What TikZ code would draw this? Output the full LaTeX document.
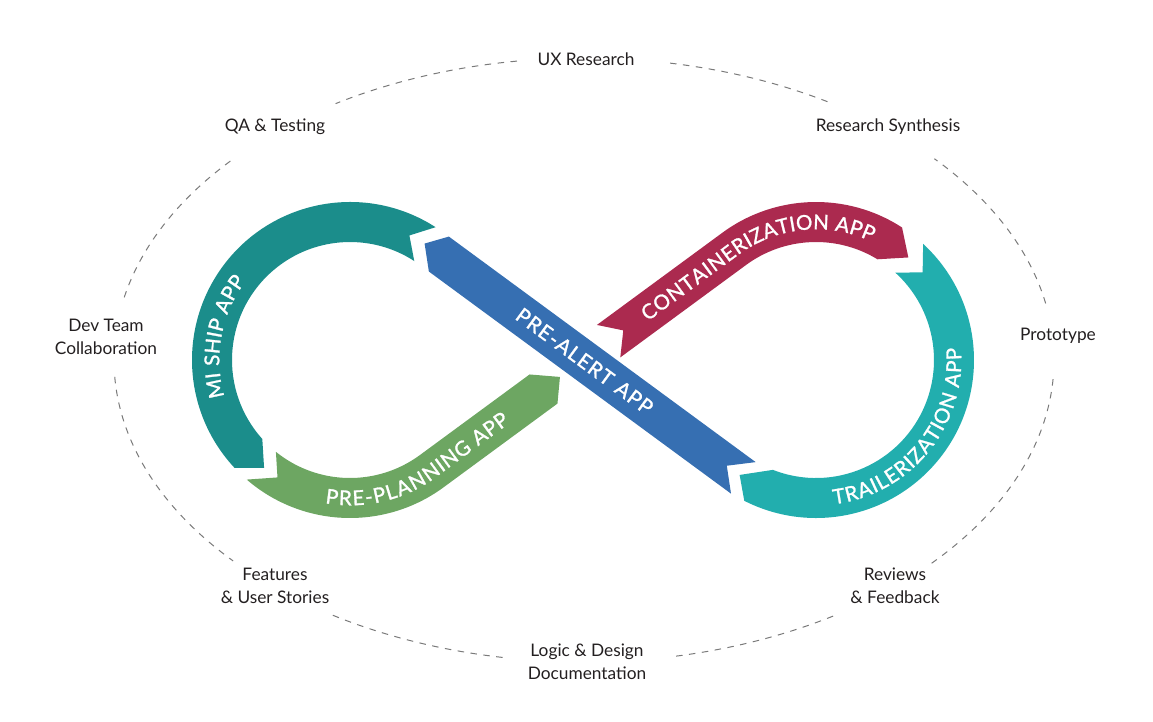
\documentclass[tikz,border=0pt]{standalone}
\usepackage{fontspec}
\setmainfont{Lato}
\newfontfamily\appfam{Lato}[FakeBold=1.3]
\usetikzlibrary{calc,decorations.text}
\definecolor{cTeal}{HTML}{1B8D8B}
\definecolor{cGreen}{HTML}{6DA662}
\definecolor{cBlue}{HTML}{366FB2}
\definecolor{cRed}{HTML}{AB2A4F}
\definecolor{cAqua}{HTML}{22AEAE}
\definecolor{cDash}{HTML}{7A7A7A}
\definecolor{cText}{HTML}{231F20}
\newcommand{\appfont}{\appfam\fontsize{20.5}{20.5}\selectfont}
\begin{document}
\begin{tikzpicture}[x=1pt,y=1pt,
  lbl/.style={align=center, font=\fontsize{17.3}{22.5}\selectfont, text=cText, inner sep=0pt},
  dashline/.style={draw=cDash, line width=1pt, dash pattern=on 6.5pt off 6.5pt},
  apptext/.style={decorate, decoration={text along path, text={|\appfont|#1},
      text color=white, text align=fit to path, raise=-7.3pt}}]
\useasboundingbox (-583,-361) rectangle (570,360);
\coordinate (O) at (0,0);
\coordinate (C1) at (-233,0);
\coordinate (C2) at (233,0);
\coordinate (E) at (1,0);
\begin{scope}[rotate=36.32]
 \coordinate (gU) at (-51.6,20);
 \coordinate (gT) at (-28.6,0);
 \coordinate (gL) at (-46.4,-20);
 \coordinate (rU) at (32,20);
 \coordinate (rN) at (50,0);
 \coordinate (rL) at (31.6,-20);
 \coordinate (ctS) at (75,0);
 \coordinate (ptE) at (-95.6,0);
\end{scope}
\begin{scope}[rotate=-36.32]
 \coordinate (bHU) at (-181.2,20);
 \coordinate (bHT) at (-196.6,0);
 \coordinate (bHL) at (-176.6,-20);
 \coordinate (bTU) at (199.6,20);
 \coordinate (bTN) at (178.5,0);
 \coordinate (bTL) at (198.4,-20);
 \coordinate (atS) at (-80,0);
 \coordinate (atE) at (84,0);
\end{scope}
% dashed ellipse
\draw[dashline] ($(E)+(98.2:470 and 302)$) arc[start angle=98.2, end angle=121.9, x radius=470pt, y radius=302pt];
\draw[dashline] ($(E)+(58.8:470 and 302)$) arc[start angle=58.8, end angle=79.6, x radius=470pt, y radius=302pt];
\draw[dashline] ($(E)+(10.8:470 and 302)$) arc[start angle=10.8, end angle=41.8, x radius=470pt, y radius=302pt];
\draw[dashline] ($(E)+(-42.3:470 and 302)$) arc[start angle=-42.3, end angle=-3, x radius=470pt, y radius=302pt];
\draw[dashline] ($(E)+(-78.7:470 and 302)$) arc[start angle=-78.7, end angle=-57.3, x radius=470pt, y radius=302pt];
\draw[dashline] ($(E)+(237.7:470 and 302)$) arc[start angle=237.7, end angle=260.1, x radius=470pt, y radius=302pt];
\draw[dashline] ($(E)+(183.2:470 and 302)$) arc[start angle=183.2, end angle=221.7, x radius=470pt, y radius=302pt];
\draw[dashline] ($(E)+(138.8:470 and 302)$) arc[start angle=138.8, end angle=168.7, x radius=470pt, y radius=302pt];
% labels
\node[lbl] (ux) at (3,301) {UX Research};
\node[lbl] (rs) at (305,233) {Research Synthesis};
\node[lbl] (pt) at (475,24) {Prototype};
\node[lbl] (rf) at (312,-226) {Reviews\\\& Feedback};
\node[lbl] (ld) at (4,-302) {Logic \& Design\\Documentation};
\node[lbl] (fu) at (-308,-226) {Features\\\& User Stories};
\node[lbl] (dt) at (-477,23) {Dev Team\\Collaboration};
\node[lbl] (qa) at (-308,233) {QA \& Testing};
% MI SHIP APP
\fill[cTeal] ($(C1)+(57.2:158)$) arc[start angle=57.2, end angle=223, radius=158pt]
  -- ($(C1)+(231.5:138)$) -- ($(C1)+(222:118)$)
  arc[start angle=222, end angle=57, radius=118pt] -- ($(C1)+(64.5:138)$) -- cycle;
% PRE-PLANNING APP
\fill[cGreen] ($(C1)+(229.2:158)$) arc[start angle=229.2, end angle=306.32, radius=158pt]
  -- (gL) -- (gT) -- (gU) -- ($(C1)+(306.32:118)$)
  arc[start angle=306.32, end angle=231.1, radius=118pt] -- ($(C1)+(238.3:138)$) -- cycle;
% CONTAINERIZATION APP
\fill[cRed] (rU) -- ($(C2)+(126.32:158)$) arc[start angle=126.32, end angle=57, radius=158pt]
  -- ($(C2)+(48:138)$) -- ($(C2)+(58.6:118)$)
  arc[start angle=58.6, end angle=126.32, radius=118pt] -- (rL) -- (rN) -- cycle;
% TRAILERIZATION APP
\fill[cAqua] ($(C2)+(47.3:158)$) arc[start angle=47.3, end angle=-117, radius=158pt]
  -- ($(C2)+(-123.6:138)$) -- ($(C2)+(-111.4:118)$)
  arc[start angle=-111.4, end angle=47.8, radius=118pt] -- ($(C2)+(39.4:138)$) -- cycle;
% PRE-ALERT APP
\fill[cBlue] (bHU) -- (bTU) -- (bTN) -- (bTL) -- (bHL) -- (bHT) -- cycle;
% texts
\path[apptext={MI SHIP APP}] ($(C1)+(196:138)$) arc[start angle=196, end angle=143, radius=138pt];
\path[apptext={PRE-PLANNING APP}] ($(C1)+(260:138)$) arc[start angle=260, end angle=306.32, radius=138pt] -- (ptE);
\path[apptext={CONTAINERIZATION APP}] (ctS) -- ($(C2)+(126.32:138)$) arc[start angle=126.32, end angle=65, radius=138pt];
\path[apptext={TRAILERIZATION APP}] ($(C2)+(-83:138)$) arc[start angle=-83, end angle=5, radius=138pt];
\path[apptext={PRE-ALERT APP}] (atS) -- (atE);
\end{tikzpicture}
\end{document}
